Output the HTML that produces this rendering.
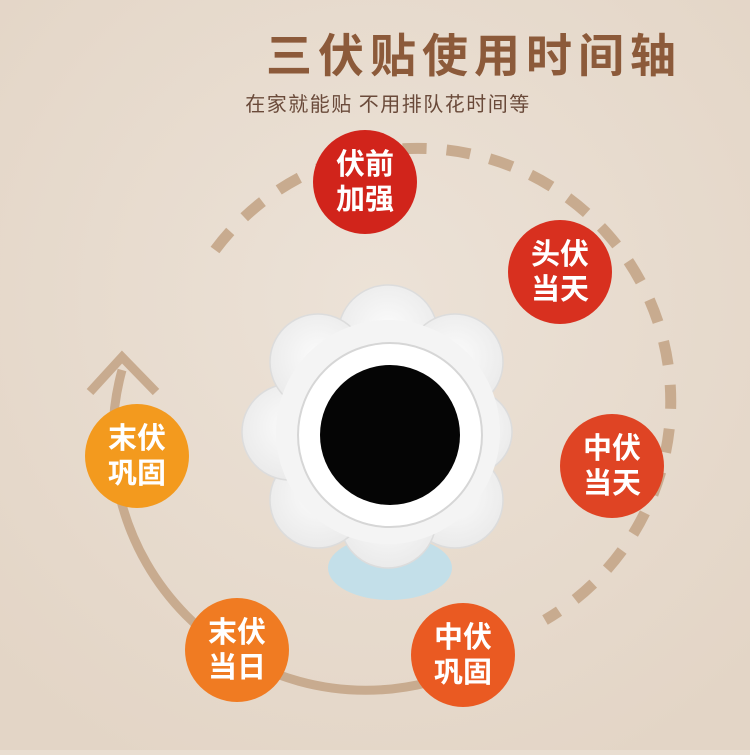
<!DOCTYPE html>
<html><head><meta charset="utf-8"><style>
body{margin:0;width:750px;height:750px;overflow:hidden;background:#e9ded1;font-family:"Liberation Sans","Noto Sans CJK SC",sans-serif}
</style></head><body>
<svg width="750" height="750" xmlns="http://www.w3.org/2000/svg">
<defs>
<radialGradient id="bg" cx="50%" cy="40%" r="70%"><stop offset="0" stop-color="#ece2d7"/><stop offset="1" stop-color="#e3d5c6"/></radialGradient>
<radialGradient id="pt" cx="50%" cy="45%" r="60%"><stop offset="0" stop-color="#fbfbfb"/><stop offset="1" stop-color="#e9e9e9"/></radialGradient>
</defs>
<rect width="750" height="750" fill="url(#bg)"/>
<text x="474" y="72" text-anchor="middle" font-size="46" font-weight="bold" fill="#8c5a3a" font-family="Noto Sans CJK SC, sans-serif" letter-spacing="6">三伏贴使用时间轴</text>
<text x="388" y="111" text-anchor="middle" font-size="20" fill="#6a4a3a" font-family="Noto Sans CJK SC, sans-serif" letter-spacing="1.5">在家就能贴 不用排队花时间等</text>
<path d="M215 250 A253 253 0 1 1 545 620" fill="none" stroke="#c8ab8f" stroke-width="11" stroke-dasharray="24 20"/>
<path d="M430 682 A253 253 0 0 1 122 370" fill="none" stroke="#c8ab8f" stroke-width="9"/>
<polyline points="90,392 122,357 156,392" fill="none" stroke="#c8ab8f" stroke-width="9"/>
<ellipse cx="390" cy="568" rx="62" ry="32" fill="#c3dfe9"/>
<g fill="url(#pt)" stroke="#dcdcdc" stroke-width="1.5">
<circle cx="388" cy="335" r="50"/><circle cx="455" cy="362" r="48"/><circle cx="470" cy="432" r="42"/>
<circle cx="455" cy="500" r="48"/><circle cx="388" cy="520" r="48"/><circle cx="318" cy="500" r="48"/>
<circle cx="290" cy="432" r="48"/><circle cx="318" cy="362" r="48"/>
</g>
<circle cx="388" cy="432" r="112" fill="#f4f4f4"/>
<circle cx="390" cy="435" r="92" fill="#fff" stroke="#d6d6d6" stroke-width="2"/>
<circle cx="390" cy="435" r="70" fill="#050505"/>
<g font-size="29" font-weight="bold" fill="#fff" text-anchor="middle" font-family="Noto Sans CJK SC, sans-serif">
<circle cx="365" cy="182" r="52" fill="#d1241b"/><text x="365" y="174">伏前</text><text x="365" y="209">加强</text>
<circle cx="560" cy="272" r="52" fill="#d8301f"/><text x="560" y="264">头伏</text><text x="560" y="299">当天</text>
<circle cx="612" cy="466" r="52" fill="#df4424"/><text x="612" y="458">中伏</text><text x="612" y="493">当天</text>
<circle cx="463" cy="655" r="52" fill="#ea5a22"/><text x="463" y="647">中伏</text><text x="463" y="682">巩固</text>
<circle cx="237" cy="650" r="52" fill="#f07b22"/><text x="237" y="642">末伏</text><text x="237" y="677">当日</text>
<circle cx="137" cy="456" r="52" fill="#f39a1e"/><text x="137" y="448">末伏</text><text x="137" y="483">巩固</text>
</g>
</svg>
</body></html>
